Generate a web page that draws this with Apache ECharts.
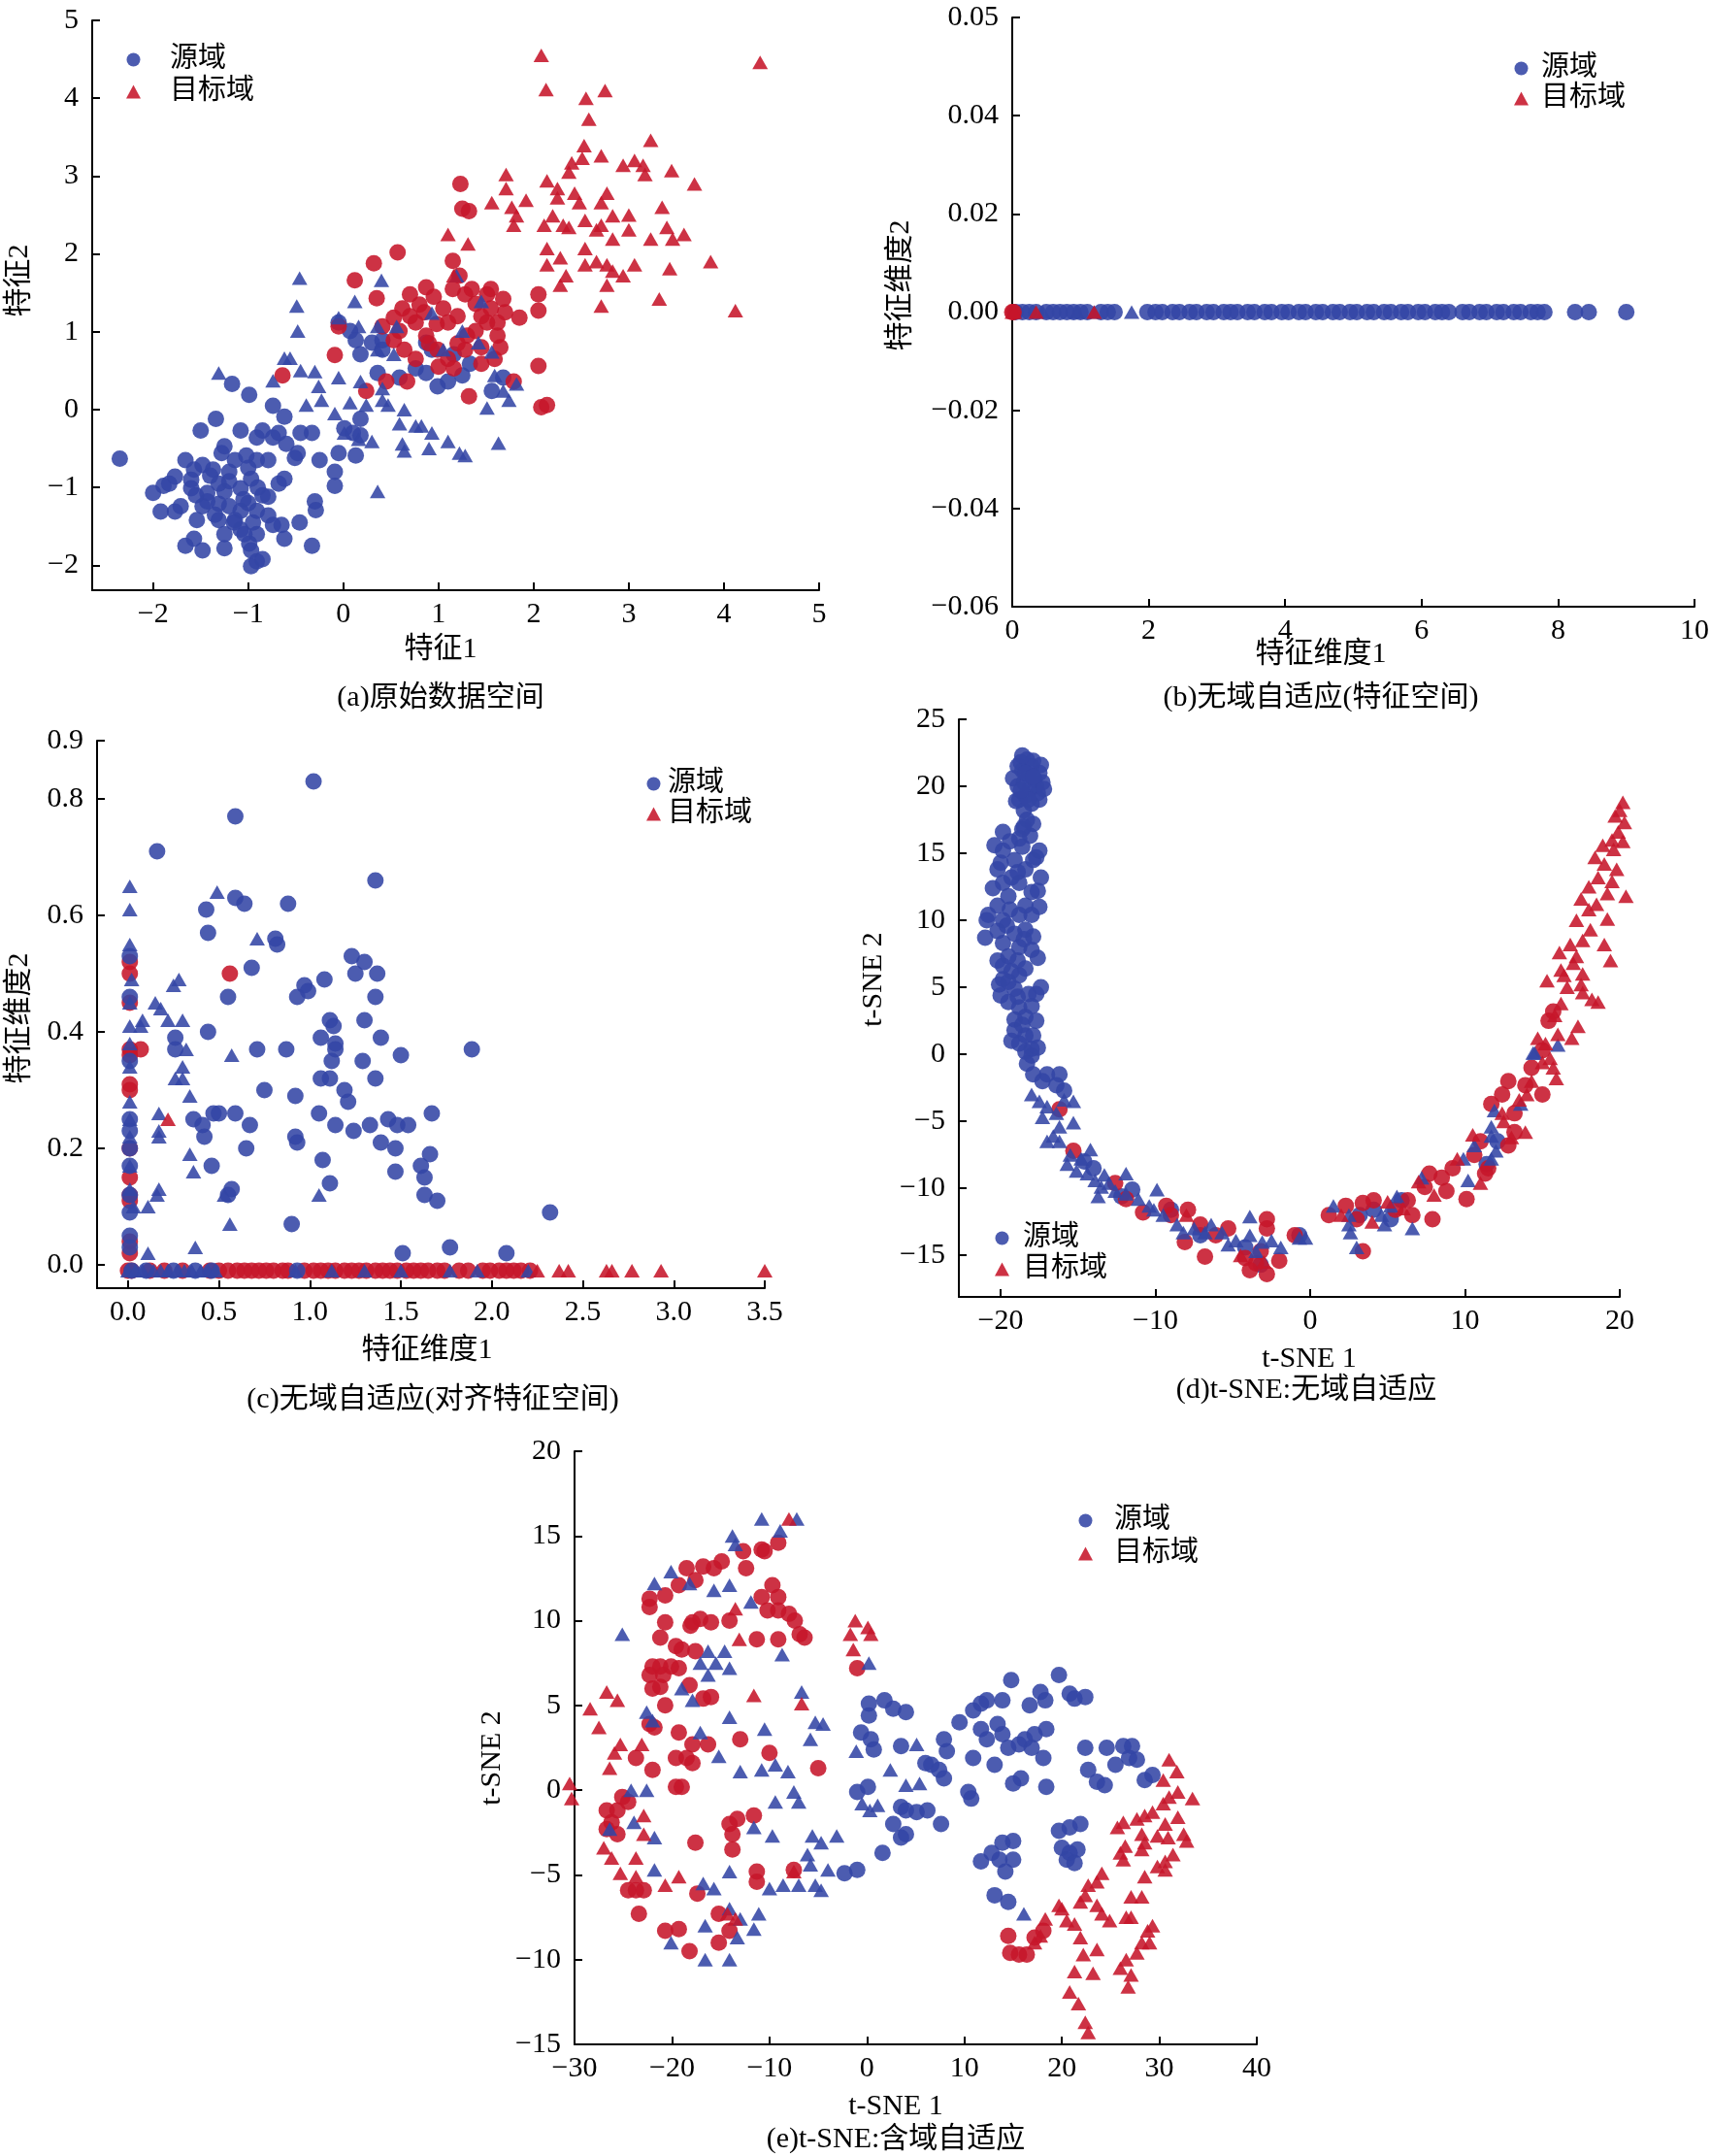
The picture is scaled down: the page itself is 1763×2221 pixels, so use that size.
<!DOCTYPE html>
<html>
<head>
<meta charset="utf-8">
<title>域自适应特征空间</title>
<script src="https://cdn.jsdelivr.net/npm/echarts@6/dist/echarts.min.js"></script>
<style>
  html, body { margin: 0; padding: 0; background: #fff; }
  #chart { width: 1763px; height: 2221px; }
</style>
</head>
<body>
<div id="chart"></div>
<script>
// ---- (a) 原始数据空间 ----
const aSrcDot = [[-2.35,-0.63],[-2.00,-1.07],[-1.89,-0.98],[-1.83,-0.95],[-1.92,-1.31],[-1.77,-1.31],[-1.66,-1.75],[-1.57,-1.66],[-1.48,-1.81],[-1.25,-1.78],[-0.97,-2.01],[-0.91,-1.95],[-0.85,-1.92],[-0.99,-1.72],[-1.04,-1.60],[-0.97,-1.81],[-0.62,-1.66],[-0.46,-1.45],[-0.33,-1.75],[-0.30,-1.18],[-0.29,-1.29],[-0.09,-0.98],[-0.09,-0.80],[-0.25,-0.65],[-0.51,-0.62],[-0.48,-0.56],[-0.60,-0.44],[-0.74,-0.36],[-0.62,-0.09],[-0.74,0.05],[-0.99,0.19],[-1.17,0.33],[-1.34,-0.12],[-1.50,-0.27],[-1.08,-0.27],[-0.91,-0.36],[-0.85,-0.27],[-0.68,-0.30],[-0.45,-0.30],[-0.33,-0.30],[-1.66,-0.65],[-1.57,-0.77],[-1.48,-0.71],[-1.37,-0.77],[-1.28,-0.56],[-1.25,-0.47],[-1.14,-0.65],[-1.02,-0.59],[-0.91,-0.65],[-0.79,-0.65],[-0.62,-0.89],[-0.68,-0.95],[-0.85,-1.10],[-0.79,-1.12],[-0.97,-0.89],[-1.08,-1.01],[-1.20,-0.92],[-1.31,-0.95],[-1.43,-1.07],[-1.48,-1.24],[-1.43,-1.18],[-1.31,-1.21],[-1.20,-1.24],[-1.08,-1.30],[-0.91,-1.30],[-0.79,-1.36],[-0.74,-1.48],[-0.65,-1.48],[-1.14,-1.42],[-1.31,-1.42],[-1.54,-1.42],[-1.71,-1.24],[-1.60,-1.01],[-1.77,-0.86],[-1.08,-1.54],[-0.91,-1.60],[-1.25,-1.60],[-1.40,-0.85],[-1.20,-0.80],[-1.00,-0.75],[-1.25,-1.05],[-1.05,-1.15],[-0.90,-1.00],[-1.55,-1.10],[-1.35,-1.35],[-1.15,-1.45],[-0.95,-1.45],[-1.00,-1.20],[-1.60,-0.90],[0.01,-0.24],[0.10,-0.30],[0.18,-0.33],[-0.05,-0.56],[0.13,-0.59],[0.18,-0.12],[0.36,0.47],[0.41,0.77],[0.59,0.41],[0.76,0.53],[0.87,0.47],[0.99,0.30],[1.10,0.36],[1.16,0.71],[1.25,0.44],[1.33,0.59],[0.93,0.77],[0.87,0.86],[0.13,0.89],[0.07,1.01],[0.41,0.89],[-0.05,1.12],[0.18,0.71],[0.30,0.86],[1.56,0.24],[1.68,0.41]];
const aSrcTri = [[-0.46,1.69],[0.40,1.66],[-0.49,1.33],[-0.48,1.01],[0.12,1.39],[-0.05,1.18],[0.16,1.07],[0.36,1.07],[-1.31,0.47],[-0.74,0.37],[-0.62,0.66],[-0.56,0.66],[-0.45,0.50],[-0.30,0.49],[-0.26,0.30],[-0.39,0.06],[-0.23,0.12],[-0.09,-0.05],[0.07,0.09],[0.24,0.06],[0.41,0.12],[0.47,0.06],[0.64,0.00],[0.59,-0.18],[0.76,-0.21],[0.82,-0.21],[0.93,-0.30],[0.90,-0.50],[0.64,-0.53],[0.62,-0.44],[1.10,-0.41],[1.22,-0.56],[1.28,-0.59],[1.63,-0.43],[0.36,-1.05],[1.51,0.02],[1.68,0.24],[1.82,0.33],[1.74,0.12],[0.56,1.07],[0.53,0.71],[0.93,1.24],[1.05,0.77],[1.19,1.72],[1.45,1.39],[1.25,1.01],[1.42,0.86],[1.56,0.74],[1.59,0.44],[0.36,0.77],[0.41,0.27],[0.18,0.36],[-0.05,0.41],[0.01,-0.30],[0.16,-0.38],[0.30,-0.41]];
const aTgtDot = [[1.23,2.90],[1.32,2.55],[1.25,2.58],[0.57,2.02],[0.32,1.88],[0.12,1.66],[0.35,1.43],[1.15,1.91],[1.22,1.72],[-0.05,1.07],[-0.09,0.70],[-0.64,0.44],[0.53,1.18],[0.70,1.48],[0.87,1.57],[1.05,1.30],[1.10,1.12],[1.28,1.48],[1.39,1.36],[1.51,1.48],[1.68,1.42],[1.85,1.18],[2.05,1.48],[2.05,1.27],[2.05,0.56],[2.08,0.03],[2.14,0.06],[0.53,0.89],[0.64,0.77],[0.76,1.12],[0.87,0.95],[0.99,0.77],[1.10,0.65],[1.16,0.53],[1.28,0.77],[1.39,1.01],[1.51,1.12],[1.62,0.95],[1.59,0.65],[1.45,0.59],[0.76,0.65],[0.67,0.36],[0.45,0.36],[0.24,0.24],[1.32,0.17],[1.79,0.36],[1.62,1.12],[0.41,1.07],[0.59,1.01],[0.62,1.30],[0.80,1.35],[0.95,1.45],[1.15,1.55],[1.35,1.55],[1.55,1.30],[1.45,1.20],[1.20,1.20],[0.98,1.10],[0.70,1.20],[0.85,1.25],[1.30,0.95],[1.45,0.80],[1.65,0.80],[1.00,0.55],[0.90,0.85],[1.20,0.85],[1.55,1.55],[1.70,1.25]];
const aTgtTri = [[2.08,4.55],[4.38,4.46],[2.13,4.11],[2.75,4.10],[2.55,4.00],[2.58,3.73],[3.23,3.46],[2.53,3.39],[2.71,3.26],[2.40,3.17],[2.51,3.23],[2.94,3.14],[3.06,3.20],[3.15,3.14],[3.17,3.02],[3.45,3.07],[3.69,2.90],[1.71,3.02],[1.71,2.84],[2.14,2.94],[2.25,2.84],[2.37,3.05],[2.43,2.78],[2.25,2.72],[2.48,2.66],[2.77,2.78],[1.92,2.69],[1.56,2.66],[1.77,2.60],[1.82,2.49],[2.71,2.66],[2.83,2.49],[3.00,2.50],[3.35,2.60],[1.79,2.37],[2.11,2.37],[2.31,2.37],[2.37,2.34],[2.54,2.43],[2.66,2.31],[2.71,2.37],[2.83,2.19],[3.00,2.31],[1.10,2.25],[1.31,2.13],[2.14,2.07],[2.54,2.07],[3.23,2.19],[3.40,2.34],[3.58,2.25],[3.46,2.19],[2.14,1.86],[2.28,1.95],[2.54,1.86],[2.66,1.90],[2.77,1.86],[3.06,1.86],[2.83,1.78],[2.94,1.72],[3.43,1.81],[3.86,1.90],[2.34,1.72],[2.28,1.60],[2.77,1.60],[3.32,1.42],[2.71,1.33],[4.12,1.27],[1.16,1.72],[2.20,2.49]];

// ---- (b) 无域自适应(特征空间), 所有点 y = 0 ----
const bSrcDotX = [0.05,0.15,0.25,0.35,0.5,0.6,0.7,0.8,0.9,1.0,1.1,1.3,1.4,1.5,1.98,2.1,2.2,2.35,2.45,2.6,2.7,2.85,2.95,3.1,3.2,3.3,3.45,3.55,3.7,3.8,3.95,4.05,4.2,4.3,4.45,4.55,4.7,4.8,4.95,5.05,5.2,5.3,5.45,5.55,5.7,5.8,5.95,6.05,6.2,6.3,6.4,6.6,6.7,6.85,6.95,7.1,7.2,7.35,7.45,7.6,7.7,7.8,8.25,8.45,9.0];
const bSrcTriX = [0.45,0.95,1.2,1.75];
const bTgtDotX = [0.0,0.02];
const bTgtTriX = [0.0,0.03,0.35,1.2];

// ---- (c) 无域自适应(对齐特征空间) ----
const cSrcDot = [[1.02,0.83],[0.59,0.77],[0.16,0.71],[1.36,0.66],[0.59,0.63],[0.64,0.62],[0.88,0.62],[0.43,0.61],[0.44,0.57],[0.81,0.56],[0.82,0.55],[1.23,0.53],[1.30,0.52],[0.68,0.51],[1.08,0.49],[1.25,0.50],[1.37,0.50],[0.97,0.48],[0.99,0.47],[0.93,0.46],[0.55,0.46],[1.36,0.46],[1.30,0.42],[1.11,0.42],[1.13,0.41],[0.44,0.40],[1.39,0.39],[1.06,0.39],[1.14,0.38],[1.14,0.37],[1.89,0.37],[0.71,0.37],[0.87,0.37],[0.26,0.39],[0.26,0.37],[1.50,0.36],[1.12,0.35],[1.29,0.35],[1.36,0.32],[1.11,0.32],[1.06,0.32],[1.19,0.30],[0.75,0.30],[0.92,0.29],[1.21,0.28],[1.67,0.26],[1.05,0.26],[0.47,0.26],[0.50,0.26],[0.59,0.26],[0.36,0.25],[0.67,0.24],[1.14,0.24],[1.33,0.24],[1.43,0.25],[1.48,0.24],[1.54,0.24],[0.41,0.24],[0.42,0.22],[1.24,0.23],[0.92,0.22],[0.93,0.21],[1.39,0.21],[1.47,0.20],[1.66,0.19],[0.65,0.20],[1.61,0.17],[1.07,0.18],[0.46,0.17],[1.47,0.16],[1.63,0.15],[1.11,0.14],[0.57,0.13],[0.55,0.12],[1.63,0.12],[1.70,0.11],[2.32,0.09],[0.90,0.07],[1.77,0.03],[1.51,0.02],[2.08,0.02],[0.01,0.53],[0.01,0.46],[0.01,0.35],[0.01,0.25],[0.01,0.23],[0.01,0.20],[0.01,0.17],[0.01,0.12],[0.01,0.09],[0.01,0.05],[0.01,0.03],[0.02,-0.01],[0.10,-0.01],[0.25,-0.01],[0.37,-0.01],[0.46,-0.01],[0.93,-0.01]];
const cSrcTri = [[0.01,0.65],[0.01,0.61],[0.01,0.55],[0.02,0.49],[0.01,0.45],[0.01,0.41],[0.01,0.38],[0.01,0.34],[0.01,0.28],[0.01,0.25],[0.01,0.22],[0.01,0.17],[0.01,0.13],[0.03,0.10],[0.49,0.64],[0.15,0.45],[0.18,0.44],[0.08,0.42],[0.22,0.42],[0.30,0.42],[0.28,0.49],[0.25,0.48],[0.32,0.37],[0.57,0.36],[0.30,0.34],[0.30,0.32],[0.26,0.32],[0.34,0.29],[0.17,0.26],[0.17,0.23],[0.17,0.22],[0.34,0.19],[0.36,0.16],[0.17,0.13],[0.16,0.12],[0.53,0.12],[1.05,0.12],[0.11,0.10],[0.56,0.07],[0.37,0.03],[0.11,0.02],[0.71,0.56],[0.07,0.41],[0.00,-0.01],[0.04,-0.01],[0.08,-0.01],[0.14,-0.01],[0.18,-0.01],[0.22,-0.01],[0.27,-0.01],[0.31,-0.01],[0.35,-0.01],[0.40,-0.01],[0.44,-0.01],[0.48,-0.01],[0.92,-0.01],[1.12,-0.01],[1.30,-0.01],[1.50,-0.01],[1.77,-0.01],[1.92,-0.01],[2.20,-0.01]];
const cTgtDot = [[0.01,0.52],[0.01,0.50],[0.01,0.45],[0.01,0.37],[0.01,0.36],[0.01,0.31],[0.01,0.30],[0.01,0.20],[0.01,0.15],[0.01,0.12],[0.01,0.11],[0.01,0.04],[0.01,0.02],[0.56,0.50],[0.07,0.37],[0.00,-0.01],[0.02,-0.01],[0.12,-0.01],[0.20,-0.01],[0.30,-0.01],[0.45,-0.01],[0.50,-0.01],[0.55,-0.01],[0.60,-0.01],[0.64,-0.01],[0.68,-0.01],[0.72,-0.01],[0.76,-0.01],[0.80,-0.01],[0.85,-0.01],[0.88,-0.01],[0.97,-0.01],[1.02,-0.01],[1.06,-0.01],[1.10,-0.01],[1.14,-0.01],[1.19,-0.01],[1.23,-0.01],[1.27,-0.01],[1.31,-0.01],[1.36,-0.01],[1.40,-0.01],[1.44,-0.01],[1.48,-0.01],[1.53,-0.01],[1.57,-0.01],[1.61,-0.01],[1.65,-0.01],[1.70,-0.01],[1.74,-0.01],[1.82,-0.01],[1.87,-0.01],[1.95,-0.01],[1.99,-0.01],[2.04,-0.01],[2.08,-0.01],[2.12,-0.01],[2.16,-0.01],[2.21,-0.01]];
const cTgtTri = [[0.22,0.25],[2.25,-0.01],[2.37,-0.01],[2.42,-0.01],[2.63,-0.01],[2.66,-0.01],[2.77,-0.01],[2.93,-0.01],[3.50,-0.01]];

// ---- (d) t-SNE: 无域自适应 ----
const dSrcDot = [[-18.3,22.0],[-18.0,21.5],[-18.6,21.2],[-18.2,20.8],[-17.8,20.5],[-18.5,20.3],[-18.9,20.0],[-18.1,19.8],[-17.6,19.5],[-18.4,19.3],[-18.8,19.0],[-18.0,18.7],[-17.7,20.0],[-18.5,18.2],[-18.3,17.5],[-18.6,16.8],[-18.1,16.3],[-17.5,21.0],[-18.7,21.8],[-18.9,21.5],[-17.4,21.6],[-17.3,20.3],[-19.2,20.6],[-17.9,21.9],[-18.6,22.3],[-17.5,19.0],[-19.0,18.9],[-17.2,19.8],[-18.2,19.0],[-18.7,19.7],[-18.4,21.0],[-17.9,20.7],[-18.5,17.0],[-17.9,17.2],[-18.8,16.1],[-19.85,16.6],[-19.85,15.2],[-19.1,14.5],[-17.9,14.5],[-20.2,13.8],[-18.4,13.8],[-17.7,14.7],[-19.85,12.8],[-18.8,12.8],[-18.0,12.1],[-19.5,11.8],[-20.2,11.1],[-18.4,11.1],[-20.8,10.4],[-19.85,10.0],[-18.8,10.4],[-18.0,10.4],[-20.2,9.2],[-19.1,9.0],[-17.9,8.8],[-19.85,8.3],[-18.8,8.0],[-18.0,7.8],[-19.5,7.3],[-19.85,6.6],[-19.85,5.6],[-18.8,5.9],[-19.1,4.9],[-18.2,4.5],[-17.7,4.5],[-19.5,3.9],[-18.8,3.5],[-18.4,2.8],[-19.1,1.8],[-18.4,1.4],[-17.9,1.4],[-18.8,0.8],[-18.0,0.4],[-18.0,-0.1],[-20.4,15.6],[-19.4,15.9],[-18.6,15.5],[-17.5,15.2],[-20.0,14.3],[-18.9,13.6],[-17.4,13.2],[-19.3,13.2],[-20.5,12.4],[-17.6,12.2],[-20.9,10.0],[-19.4,10.8],[-17.5,11.0],[-19.6,9.6],[-18.4,9.3],[-21.0,8.7],[-18.5,8.6],[-17.6,7.2],[-20.2,7.0],[-18.9,7.0],[-19.3,6.2],[-18.4,6.4],[-20.1,5.2],[-19.5,5.4],[-17.4,5.0],[-18.9,4.3],[-20.0,4.4],[-18.0,3.6],[-19.1,2.6],[-18.6,2.2],[-17.7,2.5],[-19.3,1.0],[-18.4,0.2],[-17.6,0.5],[-18.3,-0.7],[-17.9,-1.5],[-17.0,-1.5],[-16.2,-1.5],[-17.3,-2.0],[-16.4,-2.3],[-15.9,-2.7],[-14.6,-8.0],[-14.0,-8.5],[-12.2,-10.6],[-11.5,-10.1],[-9.0,-11.6],[-7.1,-13.5],[-3.2,-15.7],[-4.2,-14.4],[-0.7,-13.5],[4.1,-11.6],[5.2,-12.3],[5.9,-10.9],[3.2,-12.0],[11.4,-8.2],[12.1,-6.5]];
const dSrcTri = [[-18.0,-3.0],[-17.5,-3.5],[-17.0,-3.9],[-15.9,-3.4],[-15.3,-3.5],[-17.3,-4.7],[-16.4,-4.4],[-16.2,-5.4],[-16.6,-6.1],[-16.2,-6.5],[-17.0,-6.5],[-15.3,-5.1],[-15.5,-7.5],[-14.8,-7.8],[-14.2,-7.1],[-15.7,-8.2],[-15.1,-8.7],[-14.4,-8.9],[-13.9,-9.4],[-13.3,-9.0],[-13.5,-9.9],[-13.0,-9.6],[-13.7,-10.6],[-12.6,-10.2],[-11.9,-8.9],[-11.9,-10.4],[-11.1,-10.8],[-10.4,-11.3],[-9.9,-10.1],[-10.1,-11.6],[-9.5,-12.0],[-8.6,-12.7],[-8.2,-13.3],[-7.5,-13.0],[-6.8,-13.3],[-6.4,-12.7],[-5.7,-13.3],[-5.3,-14.2],[-4.8,-13.9],[-3.9,-12.1],[-3.9,-13.5],[-3.1,-14.0],[-2.5,-13.9],[-1.9,-14.4],[-3.5,-14.7],[-0.7,-13.7],[-0.3,-13.7],[1.5,-11.3],[2.5,-12.0],[2.5,-12.7],[2.6,-13.3],[3.0,-14.4],[4.6,-12.0],[4.8,-12.7],[5.2,-11.3],[5.6,-10.6],[6.6,-13.0],[7.2,-9.2],[9.9,-7.8],[10.2,-9.4],[10.6,-6.8],[11.7,-6.1],[11.9,-4.2],[11.7,-5.4],[12.0,-7.2],[11.7,-7.8],[13.6,-3.7],[14.4,0.1],[16.0,0.7],[14.5,0.1]];
const dTgtDot = [[-16.2,-4.1],[-15.3,-7.2],[-12.6,-9.6],[-11.9,-10.8],[-10.8,-11.8],[-9.3,-11.3],[-9.0,-12.0],[-7.9,-11.6],[-7.1,-12.7],[-8.1,-14.0],[-6.8,-15.1],[-6.1,-13.5],[-5.3,-13.0],[-4.2,-15.2],[-3.5,-15.6],[-2.8,-12.3],[-2.8,-13.0],[-2.0,-15.4],[-2.8,-16.4],[-3.9,-16.1],[-3.2,-14.7],[-1.0,-13.5],[1.2,-12.0],[2.3,-11.3],[3.4,-11.1],[4.1,-10.9],[3.0,-12.3],[3.4,-14.7],[5.5,-11.6],[6.3,-10.9],[6.6,-12.0],[7.4,-9.9],[7.7,-8.9],[8.5,-9.2],[8.8,-10.2],[7.9,-12.3],[9.2,-8.5],[10.1,-10.8],[10.6,-7.5],[11.0,-6.5],[11.5,-8.5],[11.7,-3.7],[12.4,-3.0],[12.8,-2.0],[13.2,-4.4],[13.9,-2.3],[15.0,-3.0],[14.3,-1.0],[15.0,0.3],[15.4,2.5],[15.7,3.2],[11.3,-8.9],[12.8,-6.8],[13.2,-5.8]];
const dTgtTri = [[20.2,18.8],[20.0,18.2],[19.7,17.8],[20.3,17.3],[19.9,16.6],[19.5,16.0],[20.2,15.9],[19.6,15.3],[18.9,15.6],[18.4,14.7],[19.0,14.2],[19.8,13.8],[18.6,13.2],[19.5,12.9],[18.0,12.5],[19.2,12.0],[17.5,11.6],[18.5,11.2],[19.2,10.1],[18.0,10.8],[17.2,10.0],[18.1,9.3],[16.8,8.2],[17.6,8.5],[19.0,8.2],[19.4,7.0],[16.2,6.3],[17.0,6.8],[17.6,6.0],[16.6,5.0],[15.3,5.5],[18.2,4.1],[17.6,4.6],[16.2,3.8],[15.8,2.9],[17.3,2.1],[16.9,1.2],[16.0,1.5],[15.2,0.8],[15.5,-0.3],[20.4,11.8],[16.1,7.6],[17.2,7.3],[16.4,5.9],[17.5,5.2],[18.6,3.9],[14.7,1.2],[15.7,-1.0],[15.0,-0.6],[15.9,-1.8],[14.3,-2.0],[13.5,-3.4],[12.4,-4.4],[13.9,-5.8],[9.5,-7.8],[11.0,-9.6],[12.5,-5.0],[13.0,-6.2],[14.0,-3.0],[10.5,-6.0],[8.0,-10.5],[6.0,-11.5],[4.0,-12.5],[2.0,-12.0],[-4.5,-15.0],[-3.0,-15.5],[-8.0,-12.0],[5.0,-11.0],[7.0,-9.5]];

// ---- (e) t-SNE: 含域自适应 ----
const eSrcDot = [[0.2,5.1],[1.8,5.3],[2.7,4.8],[4.0,4.6],[0.2,4.4],[-0.6,3.4],[0.4,3.0],[0.7,2.4],[3.5,2.6],[6.0,1.6],[6.6,1.5],[7.4,1.2],[8.2,2.3],[7.9,3.0],[9.5,4.0],[10.9,4.7],[11.7,5.1],[12.3,5.3],[13.9,5.3],[14.8,6.5],[16.7,5.0],[17.8,5.8],[18.3,5.3],[19.7,6.8],[20.8,5.7],[21.3,5.4],[22.4,5.5],[11.7,3.6],[12.3,3.0],[13.4,3.9],[13.9,3.3],[14.5,2.5],[15.6,2.7],[16.2,3.0],[17.2,3.3],[16.9,2.5],[18.4,3.6],[18.1,1.9],[15.0,0.4],[15.8,0.7],[18.4,0.2],[10.9,1.9],[13.1,1.5],[10.4,-0.1],[10.7,-0.5],[7.9,0.7],[3.5,-1.0],[4.0,-1.2],[5.1,-1.3],[6.2,-1.2],[7.6,-2.0],[2.7,-2.0],[4.0,-2.6],[3.5,-2.8],[1.6,-3.7],[0.1,0.2],[-1.0,-0.1],[-2.3,-4.9],[-1.0,-4.7],[22.4,2.5],[22.7,1.2],[24.4,0.3],[23.6,0.5],[24.6,2.5],[25.5,1.5],[26.3,2.6],[27.2,2.6],[26.9,1.9],[27.7,1.8],[28.5,0.6],[29.3,0.9],[19.7,-2.4],[20.8,-2.2],[21.9,-2.0],[20.0,-3.4],[20.8,-3.7],[21.6,-3.5],[20.5,-4.1],[21.3,-4.3],[11.7,-4.2],[12.8,-3.7],[13.9,-3.1],[15.0,-3.0],[13.6,-4.1],[15.0,-4.1],[14.2,-4.8],[13.1,-6.2],[14.5,-6.6]];
const eSrcTri = [[-10.8,16.0],[-7.2,16.0],[-8.9,15.3],[-13.8,15.0],[-13.5,14.5],[-20.1,12.9],[-21.8,12.2],[-18.2,12.2],[-15.7,11.8],[-14.1,12.1],[-11.9,11.1],[-16.3,8.2],[-14.6,8.2],[-17.1,7.5],[-15.5,7.5],[-14.1,7.2],[-16.3,6.8],[-25.1,9.2],[-8.7,8.0],[-19.0,6.0],[-17.9,5.3],[-6.7,5.8],[-22.6,4.6],[-22.0,4.1],[-14.1,4.3],[-10.5,3.6],[-15.2,2.0],[-17.1,3.4],[-13.0,1.1],[-10.8,1.2],[-9.4,1.5],[-8.1,1.1],[-5.3,4.0],[-4.5,3.9],[-5.8,3.0],[-7.5,-0.1],[-7.0,-0.7],[-9.4,-0.7],[-11.6,-2.2],[-9.7,-2.7],[-5.6,-2.7],[-4.7,-3.1],[-3.1,-2.7],[-6.1,-3.8],[-5.8,-4.4],[-4.0,-4.7],[-10.0,-5.8],[-8.6,-5.6],[-7.0,-5.6],[-5.3,-5.6],[-4.7,-5.9],[-14.1,-4.8],[-21.8,-4.7],[-16.8,-5.5],[-15.7,-5.8],[-24.2,0.0],[-22.6,0.0],[-21.8,-2.8],[-26.4,-2.3],[-23.9,-1.9],[-14.1,-7.0],[-13.0,-7.6],[-11.6,-8.2],[-11.1,-7.3],[-13.3,-8.7],[-16.6,-8.0],[-20.1,-9.0],[-16.6,-10.0],[-14.1,-10.0],[0.2,7.5],[-1.1,2.3],[2.4,1.2],[4.0,0.3],[5.1,2.7],[5.4,0.4],[-0.5,-0.8],[0.3,-1.2],[1.1,-0.9],[16.1,-7.3]];
const eTgtDot = [[-12.4,13.1],[-10.8,14.2],[-12.7,14.1],[-10.5,14.1],[-9.1,14.6],[-18.5,13.1],[-16.8,13.2],[-15.7,13.1],[-14.9,13.5],[-17.6,12.4],[-19.3,12.1],[-20.7,11.5],[-22.3,11.3],[-22.3,10.8],[-9.7,12.1],[-9.1,11.4],[-10.8,11.4],[-10.2,10.6],[-9.1,10.6],[-8.0,10.4],[-7.4,10.0],[-17.9,9.9],[-17.1,10.1],[-16.0,9.9],[-14.1,10.0],[-20.7,9.9],[-18.1,9.7],[-21.2,9.0],[-11.3,8.9],[-9.1,8.9],[-6.9,9.2],[-6.4,9.0],[-19.6,8.5],[-19.0,8.3],[-17.6,8.2],[-22.0,7.3],[-21.2,7.3],[-20.1,7.3],[-19.3,7.2],[-22.3,6.8],[-20.9,6.8],[-22.0,6.0],[-21.2,6.1],[-18.2,6.2],[-20.7,5.0],[-16.8,5.4],[-16.0,5.5],[-22.3,3.9],[-21.8,3.7],[-19.3,3.4],[-17.9,2.7],[-16.3,2.7],[-19.6,1.9],[-18.5,1.9],[-17.9,1.6],[-22.0,1.2],[-23.7,1.9],[-19.0,0.2],[-19.6,0.2],[-10.0,2.2],[-5.0,1.3],[-13.0,3.0],[-26.7,-1.2],[-25.6,-1.2],[-26.2,-1.9],[-25.6,-2.6],[-25.1,-0.4],[-24.5,-0.7],[-26.7,-2.3],[-14.1,-2.0],[-13.3,-1.7],[-11.6,-1.5],[-13.8,-2.6],[-13.8,-3.5],[-17.6,-3.1],[-11.3,-4.8],[-7.5,-4.7],[-11.3,-5.4],[-24.5,-5.9],[-23.7,-5.9],[-22.9,-5.9],[-23.4,-7.3],[-17.4,-6.1],[-20.7,-8.3],[-19.3,-8.2],[-18.2,-9.5],[-15.2,-7.3],[-14.1,-8.3],[-15.2,-9.0],[14.5,-8.6],[14.7,-9.6],[15.6,-9.7],[16.4,-9.7],[17.2,-8.7],[18.1,-8.3],[-1.0,7.2]];
const eTgtTri = [[-8.0,16.0],[-13.1,8.9],[-13.5,10.7],[-11.6,5.6],[-6.7,5.1],[-1.2,10.0],[-1.7,9.2],[-1.4,8.3],[0.1,9.6],[0.4,9.2],[-28.4,4.8],[-26.7,5.8],[-27.5,3.7],[-25.6,5.3],[-26.4,1.3],[-25.3,2.7],[-25.9,2.2],[-23.1,2.7],[-30.5,0.4],[-30.3,-0.5],[-22.9,-1.5],[-27.0,-3.4],[-26.2,-4.0],[-25.3,-4.9],[-23.7,-4.0],[-23.7,-5.1],[-20.7,-5.6],[-19.3,-5.1],[-22.9,-2.6],[-14.3,-7.3],[-13.5,-7.6],[-7.5,-4.8],[31.0,1.8],[31.8,1.1],[30.4,0.6],[31.9,-0.1],[33.4,-0.5],[31.0,-0.4],[30.4,-0.8],[29.3,-1.3],[28.5,-1.5],[27.7,-1.7],[26.3,-1.9],[25.7,-2.2],[31.9,-1.6],[30.6,-2.0],[28.2,-2.6],[29.8,-2.7],[30.9,-2.8],[32.5,-2.6],[32.8,-3.0],[28.5,-3.1],[26.5,-3.3],[26.0,-3.7],[26.3,-4.1],[28.2,-3.5],[31.4,-3.8],[30.6,-4.2],[29.8,-4.5],[30.6,-4.7],[28.5,-5.1],[24.1,-4.9],[23.6,-5.4],[22.7,-5.6],[22.4,-6.2],[21.9,-6.6],[23.6,-6.8],[20.0,-7.0],[20.5,-7.7],[21.3,-7.9],[24.1,-7.3],[24.9,-7.7],[27.1,-6.3],[27.1,-7.5],[28.2,-6.3],[26.6,-7.5],[28.8,-8.3],[29.3,-8.0],[28.2,-9.0],[27.7,-9.6],[29.0,-9.0],[26.6,-10.0],[26.0,-10.5],[27.1,-10.9],[26.8,-11.6],[21.9,-8.7],[22.2,-9.7],[23.6,-9.4],[21.3,-10.7],[23.2,-10.8],[20.8,-11.9],[21.7,-12.6],[22.4,-13.7],[22.7,-14.3],[18.3,-7.6],[17.8,-8.6],[17.2,-9.0],[19.7,-6.8]];

// ---- tick values ----
const aTicksX = [-2,-1,0,1,2,3,4,5];
const aTicksY = [-2,-1,0,1,2,3,4,5];
const bTicksX = [0,2,4,6,8,10];
const bTicksY = [-0.06,-0.04,-0.02,0,0.02,0.04,0.06];
const cTicksX = [0,0.5,1,1.5,2,2.5,3,3.5];
const cTicksY = [0,0.2,0.4,0.6,0.8,0.9];
const dTicksX = [-20,-10,0,10,20];
const dTicksY = [-15,-10,-5,0,5,10,15,20,25];
const eTicksX = [-30,-20,-10,0,10,20,30,40];
const eTicksY = [-15,-10,-5,0,5,10,15,20];

const SERIF = "'Liberation Serif', 'Noto Sans CJK SC', serif";
const BLUE = '#3345a5';
const RED = '#c6162a';
const minus = s => String(s).replace('-', '\u2212');

function axis(g, min, max, ticks, fmt, isY) {
  return {
    type: 'value', gridIndex: g, min: min, max: max,
    axisLine: { show: true, onZero: false, lineStyle: { color: '#000', width: 2 } },
    axisTick: { show: true, inside: true, length: 8, customValues: ticks, lineStyle: { color: '#000', width: 2 } },
    splitLine: { show: false },
    axisLabel: {
      customValues: ticks, color: '#000', fontFamily: SERIF, fontSize: 30,
      margin: isY ? 14 : 10, formatter: v => minus(fmt(v))
    }
  };
}

const fInt = v => String(v);
const fOne = v => v.toFixed(1);
const fB = v => (v > 0.055 ? '0.05' : v.toFixed(2));

const grids = [
  { left: 95, top: 21, width: 749, height: 587 },
  { left: 1043, top: 18, width: 703, height: 607 },
  { left: 100, top: 763, width: 688, height: 564 },
  { left: 988, top: 741, width: 681, height: 595 },
  { left: 592, top: 1495, width: 703, height: 611 }
].map(g => Object.assign({ outerBoundsMode: 'none', containLabel: false }, g));

const xAxes = [
  axis(0, -2.64, 5, aTicksX, fInt, false),
  axis(1, 0, 10, bTicksX, fInt, false),
  axis(2, -0.17, 3.5, cTicksX, fOne, false),
  axis(3, -22.7, 20, dTicksX, fInt, false),
  axis(4, -30, 40, eTicksX, fInt, false)
];
const yAxes = [
  axis(0, -2.32, 5, aTicksY, fInt, true),
  axis(1, -0.06, 0.06, bTicksY, fB, true),
  axis(2, -0.04, 0.9, cTicksY, fOne, true),
  axis(3, -18.1, 25, dTicksY, fInt, true),
  axis(4, -15, 20, eTicksY, fInt, true)
];

function pts(name, g, data, shape, color) {
  return {
    type: 'scatter', name: name, xAxisIndex: g, yAxisIndex: g, data: data, clip: false,
    symbol: shape, symbolSize: shape === 'circle' ? 17 : [16, 14],
    itemStyle: { color: color, opacity: 0.88 }
  };
}
const onLine = xs => xs.map(x => [x, 0]);

const series = [
  pts('源域', 0, aSrcDot, 'circle', BLUE),
  pts('目标域', 0, aTgtDot, 'circle', RED),
  pts('源域', 0, aSrcTri, 'triangle', BLUE),
  pts('目标域', 0, aTgtTri, 'triangle', RED),
  pts('源域', 1, onLine(bSrcDotX), 'circle', BLUE),
  pts('源域', 1, onLine(bSrcTriX), 'triangle', BLUE),
  pts('目标域', 1, onLine(bTgtDotX), 'circle', RED),
  pts('目标域', 1, onLine(bTgtTriX), 'triangle', RED),
  pts('目标域', 2, cTgtDot, 'circle', RED),
  pts('源域', 2, cSrcDot, 'circle', BLUE),
  pts('源域', 2, cSrcTri, 'triangle', BLUE),
  pts('目标域', 2, cTgtTri, 'triangle', RED),
  pts('源域', 3, dSrcDot, 'circle', BLUE),
  pts('目标域', 3, dTgtDot, 'circle', RED),
  pts('源域', 3, dSrcTri, 'triangle', BLUE),
  pts('目标域', 3, dTgtTri, 'triangle', RED),
  pts('源域', 4, eSrcDot, 'circle', BLUE),
  pts('目标域', 4, eTgtDot, 'circle', RED),
  pts('源域', 4, eSrcTri, 'triangle', BLUE),
  pts('目标域', 4, eTgtTri, 'triangle', RED)
];

function legendAt(left, top, gap, pad) {
  return {
    orient: 'vertical', left: left, top: top, itemGap: gap,
    itemWidth: 15, itemHeight: 14, padding: 0, selectedMode: false,
    textStyle: { fontFamily: SERIF, fontSize: 29, color: '#000', lineHeight: 31, padding: [0, 0, 0, pad] },
    data: [{ name: '源域', icon: 'circle' }, { name: '目标域', icon: 'triangle' }]
  };
}
const legends = [
  legendAt(130, 46, 2, 25),
  legendAt(1560, 55, 0, 8),
  legendAt(666, 792, 0, 2),
  legendAt(1025, 1260, 1, 9),
  legendAt(1111, 1551, 3, 17)
];

function label(text, x, y, vertical) {
  return {
    type: 'text', x: x, y: y, rotation: vertical ? Math.PI / 2 : 0,
    style: { text: text, fontFamily: SERIF, fontSize: 30, fill: '#000', align: 'center', verticalAlign: 'middle' }
  };
}
const texts = [
  label('特征1', 454, 669), label('特征2', 20, 289, true), label('(a)原始数据空间', 454, 719),
  label('特征维度1', 1361, 674), label('特征维度2', 928, 294, true), label('(b)无域自适应(特征空间)', 1361, 719),
  label('特征维度1', 440, 1391), label('特征维度2', 20, 1049, true), label('(c)无域自适应(对齐特征空间)', 446, 1442),
  label('t-SNE 1', 1349, 1400), label('t-SNE 2', 900, 1009, true), label('(d)t-SNE:无域自适应', 1346, 1432),
  label('t-SNE 1', 923, 2170), label('t-SNE 2', 507, 1811, true), label('(e)t-SNE:含域自适应', 923, 2204)
];

const chart = echarts.init(document.getElementById('chart'));
chart.setOption({
  animation: false,
  backgroundColor: '#fff',
  textStyle: { fontFamily: SERIF },
  grid: grids,
  xAxis: xAxes,
  yAxis: yAxes,
  legend: legends,
  series: series,
  graphic: texts
});
</script>
</body>
</html>
